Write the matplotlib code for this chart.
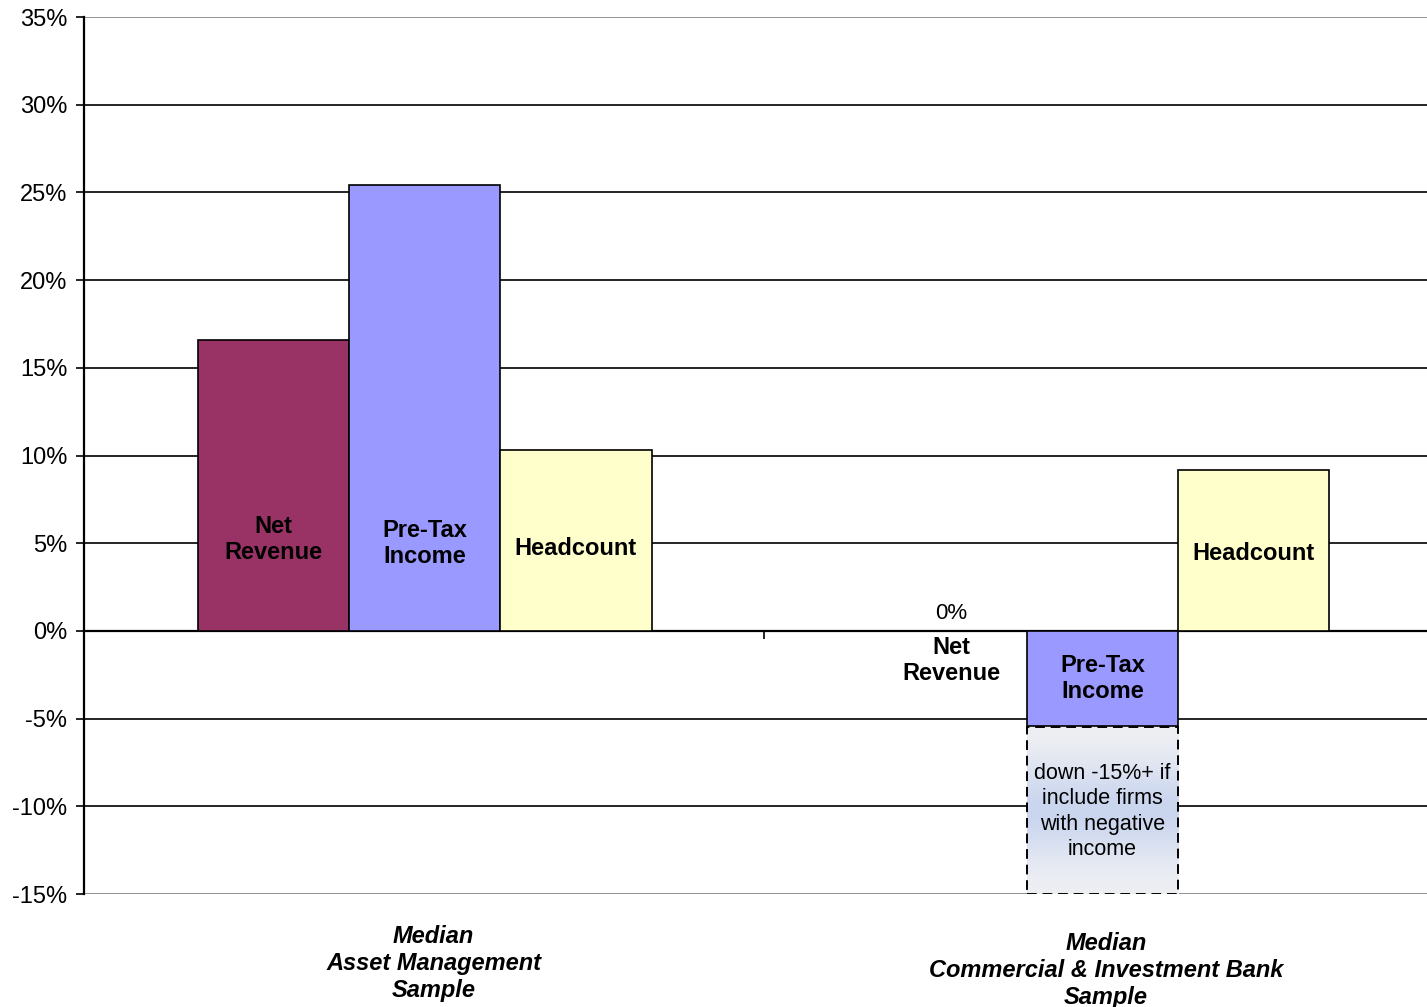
import numpy as np
import matplotlib.pyplot as plt
from matplotlib.patches import Rectangle
from matplotlib.colors import LinearSegmentedColormap

plt.rcParams['font.family'] = ['Liberation Sans', 'DejaVu Sans']

# donnees
groups = ["Median\nAsset Management\nSample", "Median\nCommercial & Investment Bank\nSample"]
series = ["Net\nRevenue", "Pre-Tax\nIncome", "Headcount"]
net_revenue = [16.6, 0.0]
pretax_income = [25.4, -5.4]
headcount = [10.3, 9.2]
colors = ["#993366", "#9999FF", "#FFFFCC"]

# position verticale des etiquettes dans les barres
label_y = [[5.2, 5.0, 4.7], [-1.7, -2.7, 4.4]]
zero_label = "0%"
note_text = "down -15%+ if\ninclude firms\nwith negative\nincome"
note_low = -15.0

fig = plt.figure(figsize=(14.27, 10.07), dpi=100)
ax = fig.add_axes([0.0589, 0.1122, 0.9411, 0.8709])

x = np.arange(len(groups))
w = 0.223
values = [net_revenue, pretax_income, headcount]
for i, vals in enumerate(values):
    ax.bar(x + (i - 1) * w, vals, width=w, color=colors[i],
           edgecolor="black", linewidth=1.2, zorder=3)

for g in range(len(groups)):
    for i in range(len(series)):
        ax.text(x[g] + (i - 1) * w, label_y[g][i], series[i], ha="center", va="center",
                fontsize=17, fontweight="bold", linespacing=1.17, zorder=5)

# 0% au dessus de la barre vide
ax.text(x[1] - w, net_revenue[1] + 1.0, zero_label, ha="center", va="center",
        fontsize=16, zorder=5)

# boite pointillee sous Pre-Tax Income
bx = x[1]
top = pretax_income[1] - 0.1
grad = np.array([0.0, 0.5, 1.0, 0.5, 0.0]).reshape(-1, 1)
cmap = LinearSegmentedColormap.from_list("g", ["#EEEFF3", "#C3D1EE"])
im = ax.imshow(grad, cmap=cmap, aspect="auto", interpolation="bicubic",
               extent=[bx - w / 2, bx + w / 2, note_low, top], zorder=3)
rect = Rectangle((bx - w / 2, note_low), w, top - note_low, fill=False,
                 edgecolor="black", linestyle=(0, (5, 3)), linewidth=1.4, zorder=4)
ax.add_patch(rect)
im.set_clip_path(rect)
ax.text(bx, -10.3, note_text, ha="center", va="center", fontsize=15.5,
        linespacing=1.28, zorder=5)

ax.set_xlim(-0.503, 1.479)
ax.set_ylim(-15, 35)
ax.set_yticks(np.arange(-15, 36, 5))
ax.set_yticklabels([f"{v}%" for v in range(-15, 36, 5)], fontsize=17)
ax.tick_params(axis="y", length=6, width=1.2, pad=6)

ax.set_xticks([0.5])
ax.set_xticklabels([])
ax.tick_params(axis="x", length=6, width=1.2, direction="out")
ax.spines["bottom"].set_position(("data", 0))
ax.spines["bottom"].set_linewidth(1.6)
ax.spines["bottom"].set_zorder(2)
ax.spines["left"].set_linewidth(1.6)
ax.spines["right"].set_visible(False)
ax.spines["top"].set_visible(False)

for v in range(-15, 36, 5):
    if v == 0:
        continue
    c = "#808080" if v in (-15, 35) else "black"
    ax.axhline(v, color=c, linewidth=1.2, zorder=1)

# libelles des groupes sous le graphique
ax.text(x[0] + 0.013, -18.95, groups[0], ha="center", va="center", fontsize=17,
        fontweight="bold", fontstyle="italic", linespacing=1.22, clip_on=False)
ax.text(x[1] + 0.005, -19.35, groups[1], ha="center", va="center", fontsize=17,
        fontweight="bold", fontstyle="italic", linespacing=1.22, clip_on=False)

plt.savefig("out.png", dpi=100)
